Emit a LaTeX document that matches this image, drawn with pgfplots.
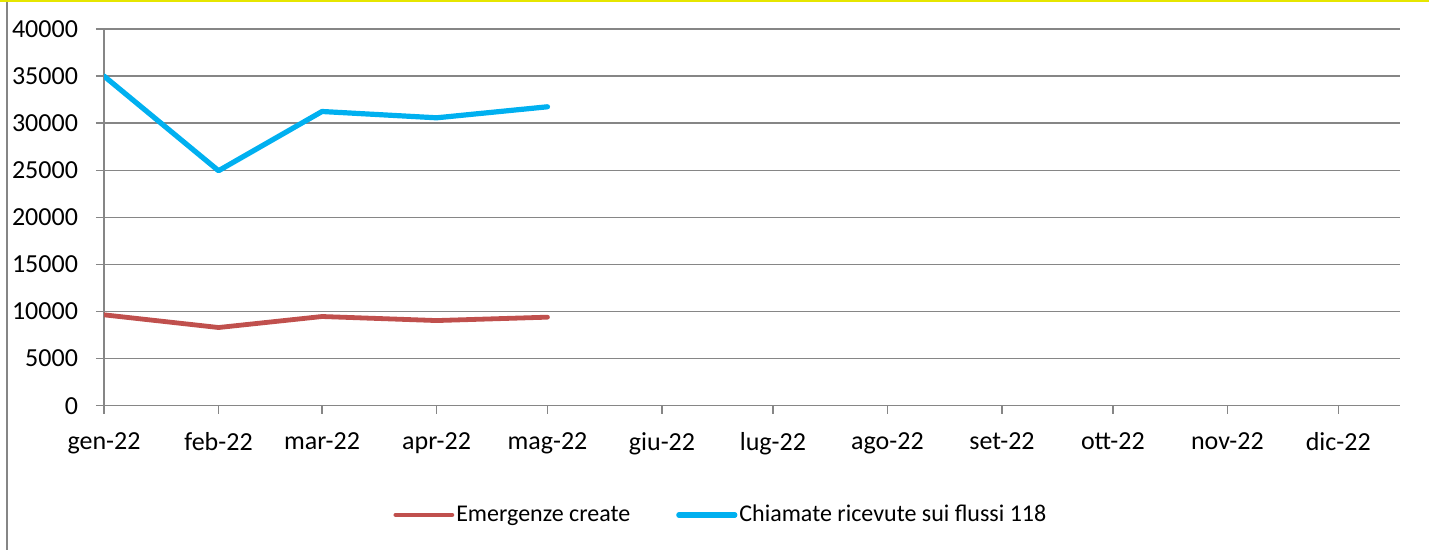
\documentclass[border=0pt]{standalone}
\usepackage{pgfplots}
\pgfplotsset{compat=1.18}
\usepackage{fontspec}
\setmainfont{Carlito}
\definecolor{cblue}{HTML}{00B0F0}
\definecolor{cred}{HTML}{C0504D}
\definecolor{cgrid}{HTML}{868686}
\definecolor{cyell}{HTML}{E6E600}
\begin{document}
\begin{tikzpicture}
\useasboundingbox (0pt,0pt) rectangle (714.5pt,275pt);
\draw[cgrid, line width=0.6pt] (3.5pt,0pt) -- (3.5pt,274pt);
\draw[cyell, line width=1.4pt] (0pt,274.65pt) -- (714.5pt,274.65pt);
\begin{axis}[
  at={(52pt,72.15pt)}, anchor=south west,
  scale only axis, width=648pt, height=188.35pt,
  xmin=0, xmax=350.7, ymin=0, ymax=40000,
  xtick={0,31,59,90,120,151,181,212,243,273,304,334},
  xticklabels={gen-22,feb-22,mar-22,apr-22,mag-22,giu-22,lug-22,ago-22,set-22,ott-22,nov-22,dic-22},
  ytick={0,5000,10000,15000,20000,25000,30000,35000,40000},
  scaled y ticks=false,
  /pgf/number format/.cd, 1000 sep={}, assume math mode=true, /pgfplots/.cd,
  ymajorgrids, grid style={cgrid, line width=0.75pt},
  axis x line*=bottom, axis y line*=left,
  axis line style={cgrid, line width=0.75pt},
  every tick/.style={cgrid, line width=0.75pt},
  tick align=outside, major tick length=4pt,
  tick label style={font=\fontsize{13}{14}\selectfont, text=black},
  xticklabel style={yshift=-6pt},
  yticklabel style={xshift=-5.5pt},
  legend style={at={(0.476,-0.29)}, anchor=center, draw=none, font=\fontsize{12}{13}\selectfont, legend columns=2,
    /tikz/every even column/.append style={column sep=22pt}, inner sep=0pt,
    nodes={inner xsep=1pt}},
  legend cell align=left,
  legend image code/.code={\draw[#1, line cap=round] (0pt,0pt) -- (28pt,0pt);},
]
\addplot[cred, line width=2.4pt, line cap=round, line join=round] coordinates {
(0,9650) (31,8300) (59,9470) (90,9040) (120,9400)};
\addlegendentry{Emergenze create}
\addplot[cblue, line width=2.6pt, line cap=round, line join=round] coordinates {
(0,35000) (31,24950) (59,31240) (90,30570) (120,31740)};
\addlegendentry{Chiamate ricevute sui flussi 118}
\end{axis}
\end{tikzpicture}
\end{document}
